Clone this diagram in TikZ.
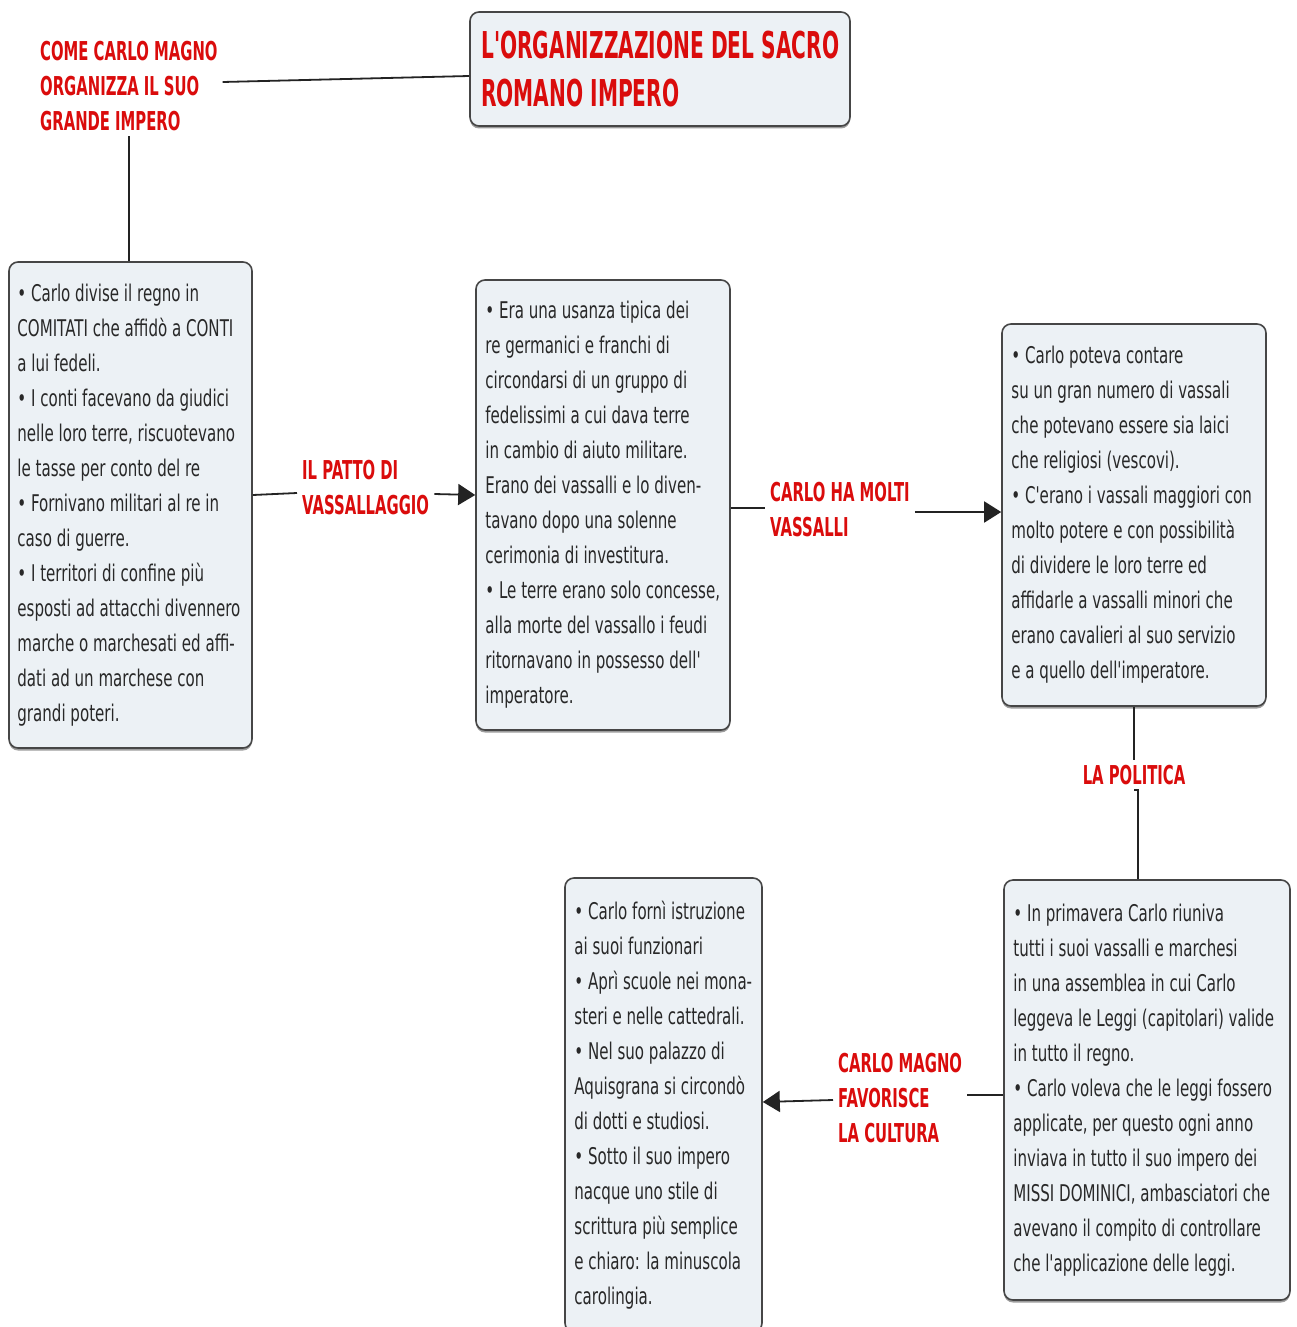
\documentclass[tikz,border=0pt]{standalone}
\usepackage{fontspec}
\usetikzlibrary{arrows.meta,shadows,calc}
\newfontfamily\bodyf{DejaVu Sans}[FakeStretch=0.655]
\newfontfamily\labf{DejaVu Sans}[FakeStretch=0.57]
\newfontfamily\titf{DejaVu Sans}[FakeStretch=0.545]
\definecolor{boxfill}{RGB}{236,241,245}
\definecolor{boxline}{RGB}{70,70,70}
\definecolor{bodytext}{RGB}{40,40,40}
\definecolor{labred}{RGB}{218,12,12}
\definecolor{lineclr}{RGB}{35,35,35}
\tikzset{
  cbox/.style={draw=boxline, line width=1.6pt, fill=boxfill, rounded corners=9pt,
    drop shadow={shadow xshift=0pt, shadow yshift=-2.5pt, opacity=0.55, fill=black!70}},
  btext/.style={inner sep=0pt, align=left, anchor=west, text=bodytext,
    font=\bodyf\fontsize{23}{35}\selectfont},
  rlabel/.style={inner sep=5pt, align=left, text=labred,
    font=\labf\bfseries\fontsize{26}{35}\selectfont},
  ttext/.style={inner sep=0pt, align=left, anchor=west, text=labred,
    font=\titf\bfseries\fontsize{37}{48}\selectfont},
  conn/.style={line width=1.8pt, draw=lineclr},
  arr/.style={conn, -{Triangle[length=17pt,width=21pt]}},
}
\begin{document}
\begin{tikzpicture}[x=1pt,y=-1pt]
\useasboundingbox (0,0) rectangle (1296,1327);
\fill[white] (0,0) rectangle (1296,1327);

% boxes
\node[cbox, minimum width=380pt, minimum height=114pt] (title) at (660,69) {};
\node[cbox, minimum width=243pt, minimum height=486pt] (b1) at (130.5,505) {};
\node[cbox, minimum width=254pt, minimum height=450pt] (b2) at (603,505) {};
\node[cbox, minimum width=264pt, minimum height=382pt] (b3) at (1134,515) {};
\node[cbox, minimum width=286pt, minimum height=420pt] (b4) at (1147,1090) {};
\node[cbox, minimum width=197pt, minimum height=454pt] (b5) at (663.5,1105) {};

% texts in boxes
\node[ttext] (tt) at (481,69) {L'ORGANIZZAZIONE DEL SACRO\\ROMANO IMPERO};

\node[btext] (t1) at ($(b1.west)+(9,0)$) {%
• Carlo divise il regno in\\
COMITATI che affidò a CONTI\\
a lui fedeli.\\
• I conti facevano da giudici\\
nelle loro terre, riscuotevano\\
le tasse per conto del re\\
• Fornivano militari al re in\\
caso di guerre.\\
• I territori di confine più\\
esposti ad attacchi divennero\\
marche o marchesati ed affi-\\
dati ad un marchese con\\
grandi poteri.};

\node[btext] (t2) at ($(b2.west)+(10,0)$) {%
• Era una usanza tipica dei\\
re germanici e franchi di\\
circondarsi di un gruppo di\\
fedelissimi a cui dava terre\\
in cambio di aiuto militare.\\
Erano dei vassalli e lo diven-\\
tavano dopo una solenne\\
cerimonia di investitura.\\
• Le terre erano solo concesse,\\
alla morte del vassallo i feudi\\
ritornavano in possesso dell'\\
imperatore.};

\node[btext] (t3) at ($(b3.west)+(10,0)$) {%
• Carlo poteva contare\\
su un gran numero di vassali\\
che potevano essere sia laici\\
che religiosi (vescovi).\\
• C'erano i vassali maggiori con\\
molto potere e con possibilità\\
di dividere le loro terre ed\\
affidarle a vassalli minori che\\
erano cavalieri al suo servizio\\
e a quello dell'imperatore.};

\node[btext] (t4) at ($(b4.west)+(10,0)$) {%
• In primavera Carlo riuniva\\
tutti i suoi vassalli e marchesi\\
in una assemblea in cui Carlo\\
leggeva le Leggi (capitolari) valide\\
in tutto il regno.\\
• Carlo voleva che le leggi fossero\\
applicate, per questo ogni anno\\
inviava in tutto il suo impero dei\\
MISSI DOMINICI, ambasciatori che\\
avevano il compito di controllare\\
che l'applicazione delle leggi.};

\node[btext] (t5) at ($(b5.west)+(10,0)$) {%
• Carlo fornì istruzione\\
ai suoi funzionari\\
• Aprì scuole nei mona-\\
steri e nelle cattedrali.\\
• Nel suo palazzo di\\
Aquisgrana si circondò\\
di dotti e studiosi.\\
• Sotto il suo impero\\
nacque uno stile di\\
scrittura più semplice\\
e chiaro: la minuscola\\
carolingia.};

% red labels
\node[rlabel, anchor=west] (L0) at (35,86) {COME CARLO MAGNO\\ORGANIZZA IL SUO\\GRANDE IMPERO};
\node[rlabel, anchor=west] (L1) at (297,488) {IL PATTO DI\\VASSALLAGGIO};
\node[rlabel, anchor=west] (L2) at (765,510) {CARLO HA MOLTI\\VASSALLI};
\node[rlabel, anchor=center] (L3) at (1134,775) {LA POLITICA};
\node[rlabel, anchor=west] (L4) at (833,1098) {CARLO MAGNO\\FAVORISCE\\LA CULTURA};

% connectors
\draw[conn] ([yshift=4pt]L0.east) -- ([yshift=-7pt]title.west);
\draw[conn] (L0.south) -- (L0.south |- b1.north);
\draw[conn] ([yshift=10pt]b1.east) -- ([yshift=-5pt]L1.west);
\draw[arr] ([yshift=-6pt]L1.east) -- ([yshift=10pt]b2.west);
\draw[conn] ([yshift=-3pt]b2.east) -- ([yshift=2pt]L2.west);
\draw[arr] ([yshift=-2pt]L2.east) -- ([yshift=3pt]b3.west);
\draw[conn] (b3.south) -- (b3.south |- L3.north);
\draw[conn] (L3.south) -- (L3.south -| 1138,0) -- (1138,0 |- b4.north);
\draw[conn] ([yshift=-5pt]b4.west) -- ([yshift=-5pt]b4.west -| L4.east);
\draw[arr] ([yshift=-2pt]L4.west) -- ([yshift=3pt]b5.east);
\end{tikzpicture}
\end{document}
